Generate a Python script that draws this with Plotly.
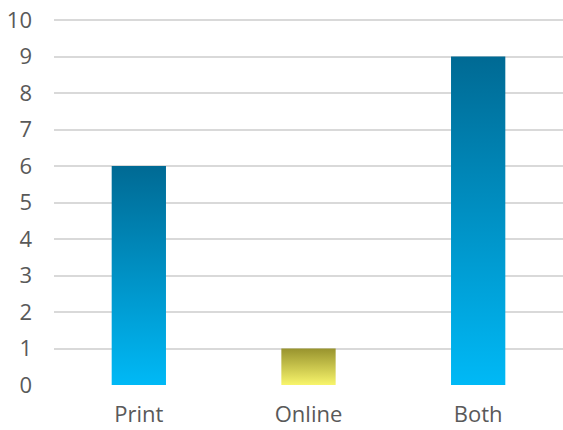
import plotly.graph_objects as go

# Survey answers: how people read
categories = ["Print", "Online", "Both"]
values = [6, 1, 9]

# Vertical gradient per bar: [bottom colour, top colour]
bar_gradients = [
    ["#00b9f6", "#006a94"],
    ["#f8f56b", "#98932e"],
    ["#00b9f6", "#006a94"],
]

y_ticks = list(range(0, 11))
BAR_HALF_WIDTH = 0.16

fig = go.Figure()

for i, (cat, val, grad) in enumerate(zip(categories, values, bar_gradients)):
    x0, x1 = i - BAR_HALF_WIDTH, i + BAR_HALF_WIDTH
    fig.add_trace(go.Scatter(
        x=[x0, x1, x1, x0, x0],
        y=[0, 0, val, val, 0],
        mode="lines",
        line=dict(width=0),
        fill="toself",
        fillgradient=dict(
            type="vertical",
            colorscale=[[0, grad[0]], [1, grad[1]]],
        ),
        name=cat,
        hoverinfo="text",
        text=f"{cat}: {val}",
        showlegend=False,
    ))

font_family = "Open Sans, Noto Sans, DejaVu Sans, sans-serif"

fig.update_layout(
    width=563,
    height=430,
    margin=dict(l=54, r=0, t=19, b=45),
    paper_bgcolor="white",
    plot_bgcolor="white",
    font=dict(family=font_family, size=22, color="#595959"),
    xaxis=dict(
        range=[-0.5, 2.5],
        tickvals=list(range(len(categories))),
        ticktext=categories,
        showgrid=False,
        zeroline=False,
        showline=False,
        ticks="",
        ticklabelstandoff=14,
        fixedrange=True,
    ),
    yaxis=dict(
        range=[0, 10.03],
        tickvals=y_ticks,
        showgrid=True,
        gridcolor="#d9d9d9",
        gridwidth=2,
        zeroline=False,
        showline=False,
        ticks="",
        ticklabelstandoff=21,
        fixedrange=True,
    ),
)

fig.write_html("out.html")
